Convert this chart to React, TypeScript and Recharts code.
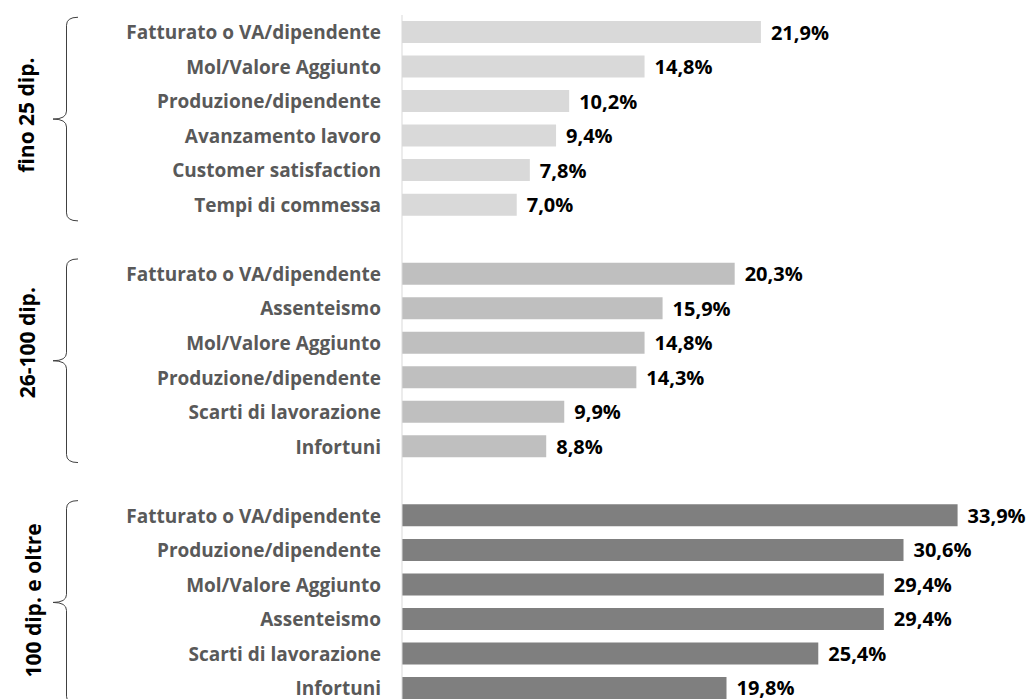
import React from "react";
import { BarChart, Bar, XAxis, YAxis, Cell, LabelList } from "recharts";

const groupNames = ["fino 25 dip.", "26-100 dip.", "100 dip. e oltre"];

const smallCats = [
  "Fatturato o VA/dipendente",
  "Mol/Valore Aggiunto",
  "Produzione/dipendente",
  "Avanzamento lavoro",
  "Customer satisfaction",
  "Tempi di commessa",
];
const smallValues = [21.9, 14.8, 10.2, 9.4, 7.8, 7.0];

const midCats = [
  "Fatturato o VA/dipendente",
  "Assenteismo",
  "Mol/Valore Aggiunto",
  "Produzione/dipendente",
  "Scarti di lavorazione",
  "Infortuni",
];
const midValues = [20.3, 15.9, 14.8, 14.3, 9.9, 8.8];

const bigCats = [
  "Fatturato o VA/dipendente",
  "Produzione/dipendente",
  "Mol/Valore Aggiunto",
  "Assenteismo",
  "Scarti di lavorazione",
  "Infortuni",
];
const bigValues = [33.9, 30.6, 29.4, 29.4, 25.4, 19.8];

const groupColors = ["#d9d9d9", "#bfbfbf", "#7f7f7f"];

const groupCats = [smallCats, midCats, bigCats];
const groupValues = [smallValues, midValues, bigValues];

type Row = { key: string; label: string; value: number | null; group: number; pos: number };

const rows: Row[] = [];
groupCats.forEach((cats, g) => {
  cats.forEach((c, i) => {
    rows.push({ key: `${g}-${i}`, label: c, value: groupValues[g][i], group: g, pos: i });
  });
  if (g < groupCats.length - 1) {
    rows.push({ key: `gap-${g}`, label: "", value: null, group: g, pos: -1 });
  }
});

const W = 1018;
const H = 700;
const M = { top: 7, right: 34, left: 0, bottom: 2.5 };
const STEP = (H - M.top - M.bottom) / rows.length;
const FONT = "'Open Sans', 'Noto Sans', sans-serif";

// group label tweaks (baseline x, vertical shift)
const labelX = [26.5, 26.5, 33.5];
const labelShift = [-4, -18, -2];

const fmt = (v: number) => v.toFixed(1).replace(".", ",") + "%";

function CatTick(props: any) {
  const { y, payload } = props;
  const row = rows.find((r) => r.key === payload.value);
  if (!row || row.pos < 0) return null;
  let brace = null;
  if (row.pos === 0) {
    const n = groupCats[row.group].length;
    const top = y - 15;
    const bottom = y + (n - 1) * STEP + 16;
    const mid = (top + bottom) / 2;
    const bx = 58.5;
    const d = `M70,${top} Q${bx},${top} ${bx},${top + 8} L${bx},${mid - 8} Q${bx},${mid} 45,${mid} Q${bx},${mid} ${bx},${mid + 8} L${bx},${bottom - 8} Q${bx},${bottom} 70,${bottom}`;
    const ly = mid + labelShift[row.group];
    const lx = labelX[row.group];
    brace = (
      <g>
        <path d={d} fill="none" stroke="#404040" strokeWidth={1} />
        <text
          x={lx}
          y={ly}
          transform={`rotate(-90, ${lx}, ${ly})`}
          textAnchor="middle"
          fontFamily={FONT}
          fontWeight="bold"
          fontSize={21}
          fill="#000"
        >
          {groupNames[row.group]}
        </text>
      </g>
    );
  }
  return (
    <g>
      {brace}
      <text
        x={373}
        y={y}
        textAnchor="end"
        dominantBaseline="central"
        fontFamily={FONT}
        fontWeight="bold"
        fontSize={19}
        fill="#595959"
      >
        {row.label}
      </text>
    </g>
  );
}

function ValueLabel(props: any) {
  const { x, y, width, height, value } = props;
  if (value == null) return null;
  return (
    <text
      x={x + width + 10}
      y={y + height / 2}
      dominantBaseline="central"
      fontFamily={FONT}
      fontWeight="bold"
      fontSize={20}
      fill="#000"
    >
      {fmt(value)}
    </text>
  );
}

export default function App() {
  return (
    <div
      style={{
        position: "fixed",
        left: 8,
        top: 8,
        width: W,
        height: 691,
        overflow: "hidden",
        background: "#fff",
      }}
    >
      <BarChart width={W} height={H} data={rows} layout="vertical" margin={M} barSize={22}>
        <XAxis type="number" domain={[0, 36]} hide />
        <YAxis
          type="category"
          dataKey="key"
          width={394}
          interval={0}
          tickLine={false}
          axisLine={{ stroke: "#d9d9d9" }}
          tick={<CatTick />}
        />
        <Bar dataKey="value" isAnimationActive={false}>
          {rows.map((r) => (
            <Cell key={r.key} fill={groupColors[r.group]} />
          ))}
          <LabelList dataKey="value" content={<ValueLabel />} />
        </Bar>
      </BarChart>
    </div>
  );
}
